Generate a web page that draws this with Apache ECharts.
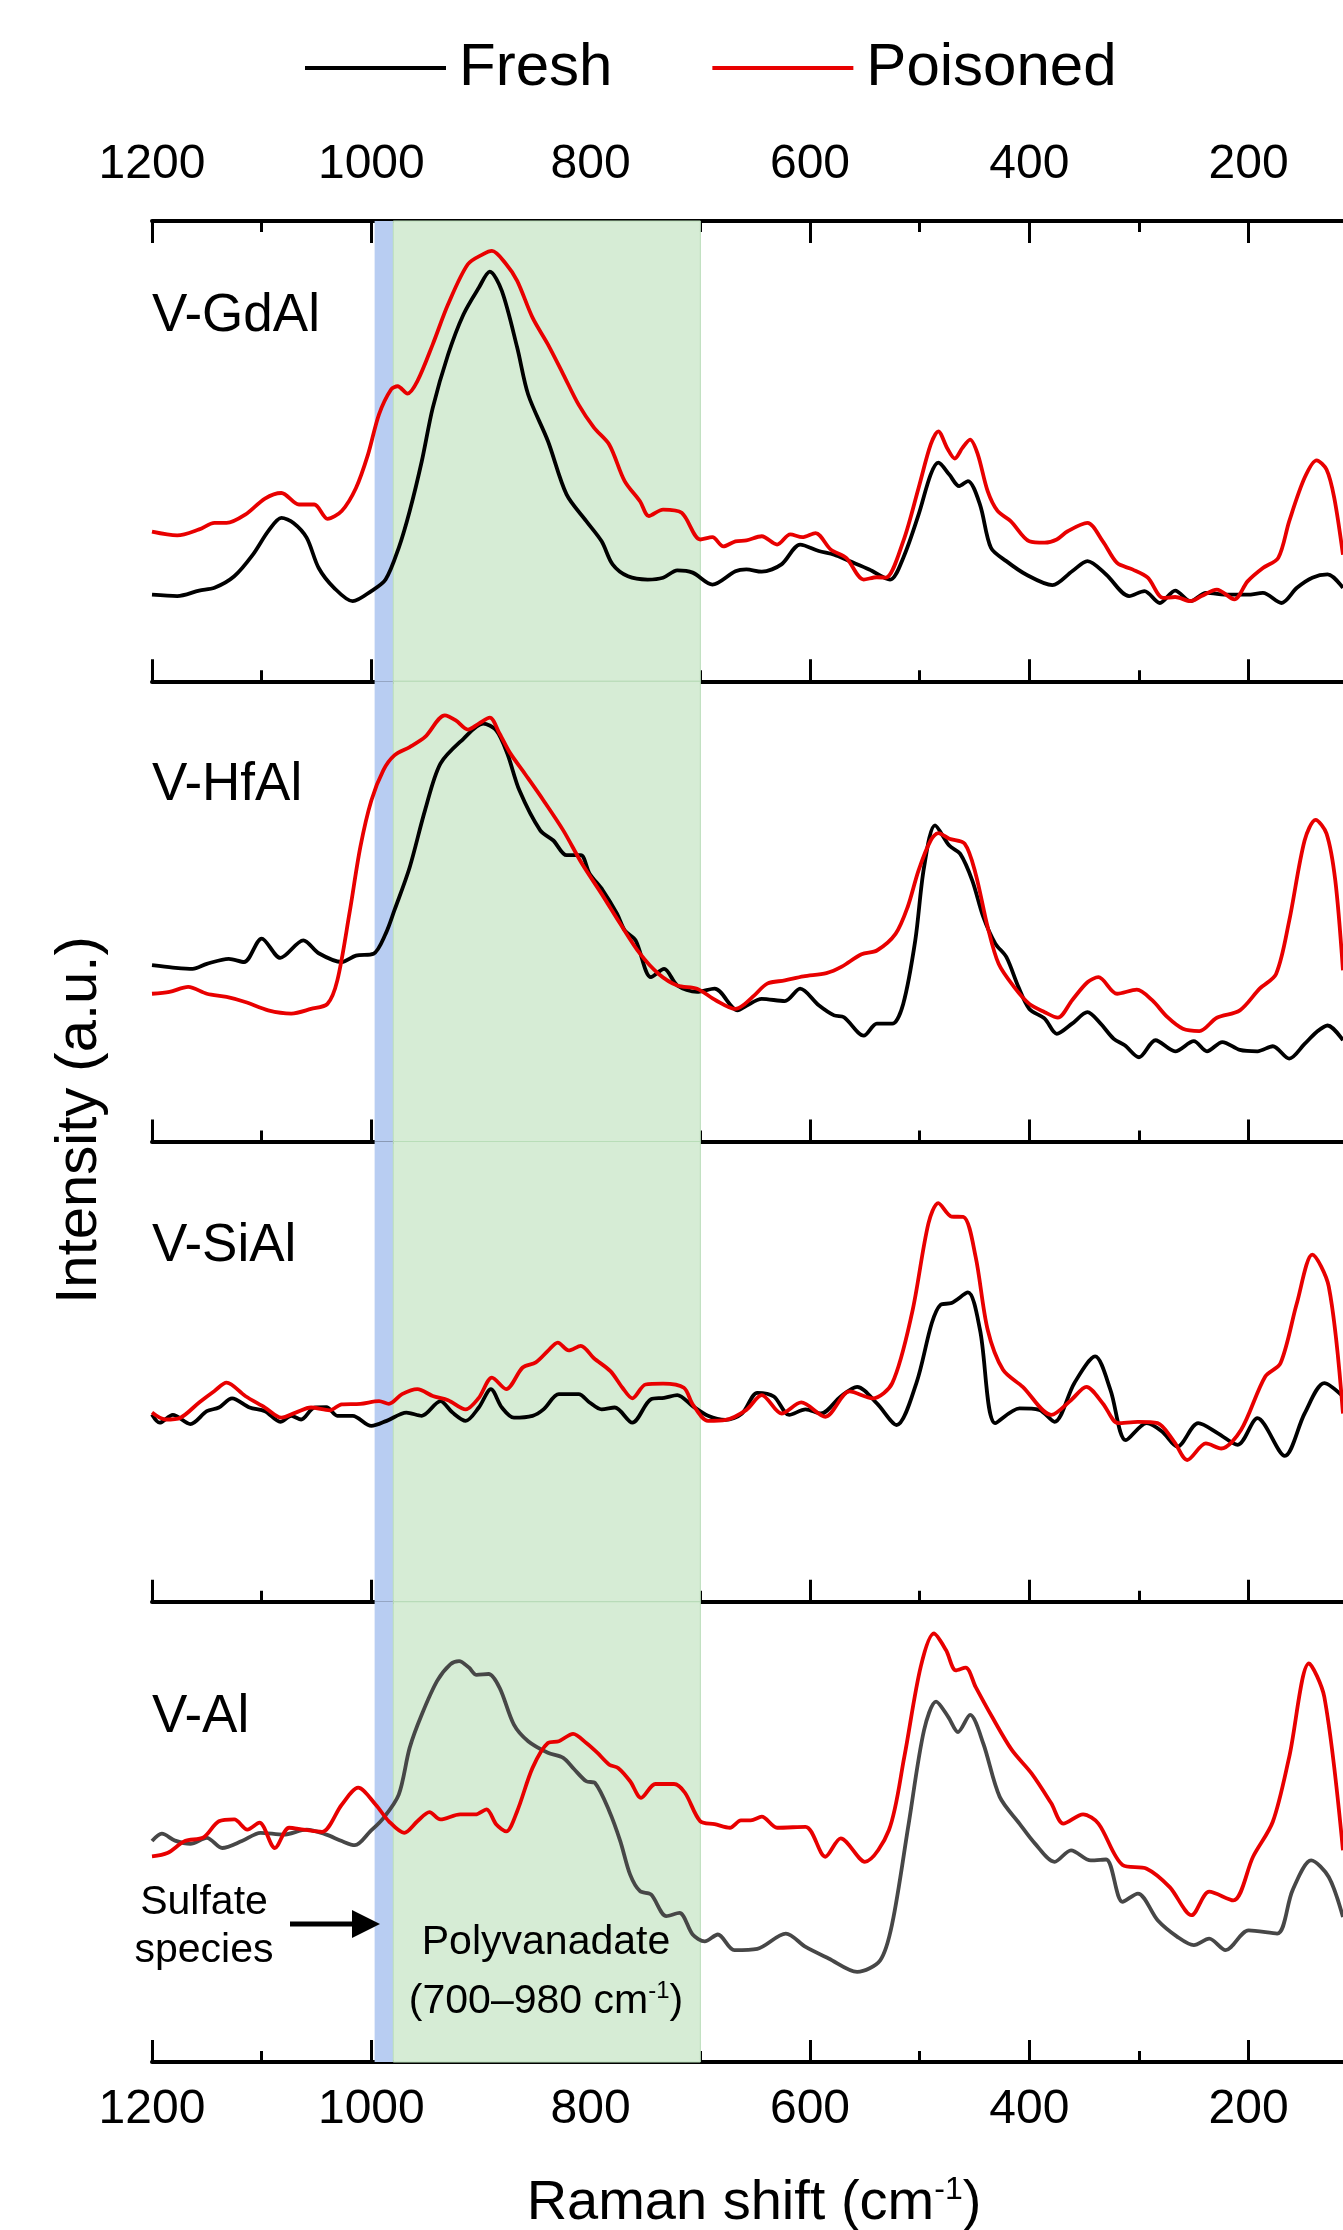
<!DOCTYPE html>
<html><head><meta charset="utf-8">
<script src="https://cdn.jsdelivr.net/npm/echarts@6/dist/echarts.min.js"></script>
<style>html,body{margin:0;padding:0;background:#fff}#c{width:1343px;height:2230px}</style>
</head><body><div id="c"></div>
<script>
// ---------------- data ----------------
const tickLabels = [1200, 1000, 800, 600, 400, 200];
const panelNames = ['V-GdAl', 'V-HfAl', 'V-SiAl', 'V-Al'];
const seriesNames = ['Fresh', 'Poisoned'];
const sulfateBand = [997, 980];
const polyvanadateBand = [980, 700];

const gdFresh = [[1200,18.8],[1177,18.5],[1157,19.7],[1143,20.3],[1125,22.8],[1108,27.5],[1094,32.6],[1082,35.5],[1071,34.4],[1059,31.2],[1048,24.6],[1034,20.3],[1017,17.4],[1000,19.6],[987,22.1],[975,29],[965,37],[954,47.8],[944,59.4],[930,71],[916,79.7],[902,85.5],[892,89],[881,84.8],[867,72.5],[857,62.3],[839,52.2],[822,40.6],[804,34.8],[790,30.4],[780,25.4],[766,22.8],[748,22.1],[734,22.5],[721,24.1],[707,23.6],[689,21],[668,23.9],[658,24.3],[644,23.8],[626,25.4],[609,29.7],[592,28.3],[578,27.5],[564,26.1],[546,24.3],[527,22.1],[515,26.8],[501,36.2],[490,44.9],[483,47.5],[473,44.9],[464,42.4],[456,43.5],[445,38.4],[435,29],[421,26.1],[403,23.2],[379,20.9],[361,23.9],[347,26.1],[330,23.2],[309,18.5],[295,19.6],[281,17],[267,19.7],[253,17.4],[239,19.2],[218,18.8],[201,18.8],[187,19.2],[170,17],[156,20.3],[142,22.5],[128,23.2],[114,20.3]];
const gdPoisoned = [[1200,32.5],[1177,31.7],[1157,33],[1143,34.4],[1132,34.4],[1115,36.2],[1097,39.7],[1082,40.9],[1066,38.4],[1052,38.4],[1040,35.3],[1027,37],[1014,42],[1003,49.3],[993,58],[982,63.4],[976,64.1],[967,62.5],[958,65.2],[944,73.2],[930,81.9],[912,90.6],[898,92.8],[890,93.5],[877,90.6],[867,87],[853,79],[839,73.2],[825,66.7],[811,60.1],[797,55.1],[783,51.4],[769,43.5],[755,39.1],[747,35.9],[734,37.3],[717,36.6],[700,30.8],[689,31.3],[679,29.3],[668,30.4],[658,30.6],[644,31.5],[630,29.7],[618,31.9],[607,31.3],[595,32.2],[581,28.6],[567,26.8],[551,22.1],[539,22.6],[531,22.5],[515,30.4],[501,42],[490,51.4],[483,54.3],[475,50.7],[468,48.4],[461,50.7],[454,52.5],[447,49.3],[438,41.3],[429,37],[417,34.8],[400,30.4],[386,30.1],[375,30.8],[365,32.6],[347,34.4],[333,30.4],[320,25.7],[306,24.3],[292,22.5],[278,18.1],[267,18.3],[253,17.4],[243,18.5],[229,19.9],[213,17.8],[201,21.7],[187,24.6],[173,26.8],[163,34.8],[149,44.2],[138,48],[129,46],[122,39.9],[114,27.5]];
const hfFresh = [[1200,38.3],[1181,37.8],[1163,37.5],[1150,38.6],[1130,39.7],[1116,39],[1100,44.1],[1083,39.9],[1062,43.7],[1048,40.9],[1027,39],[1014,40.4],[998,40.8],[987,45.1],[979,50.2],[965,59.6],[951,72],[937,82.1],[916,87.5],[898,90.8],[886,89.3],[876,84.3],[865,76.3],[846,67.6],[834,65.4],[822,62.2],[809,62.2],[801,58.2],[789,54.6],[776,49.5],[769,45.9],[759,43.7],[745,35.7],[733,37.5],[721,33.9],[703,32.5],[687,33.2],[666,28.5],[658,29.5],[644,31],[623,30.5],[609,33.2],[592,29.6],[578,27.4],[569,27],[551,23],[539,25.6],[525,25.6],[515,29.9],[504,43.7],[496,59.6],[486,68.7],[473,64.3],[463,62.5],[452,56.7],[442,48.8],[431,43],[421,40.1],[410,33.6],[400,28.8],[386,26.7],[375,23.4],[361,25.6],[347,28.1],[335,25.6],[323,22.3],[313,20.9],[300,18.3],[285,22],[267,19.6],[250,21.8],[238,19.6],[224,21.6],[208,19.9],[192,19.6],[178,20.7],[163,18],[149,21.2],[138,23.8],[128,25.2],[114,22]];
const hfPoisoned = [[1200,32.1],[1184,32.5],[1167,33.6],[1150,32.1],[1132,31.4],[1115,30.3],[1094,28.5],[1073,27.8],[1055,28.8],[1040,29.9],[1031,35],[1020,49.5],[1010,64],[1000,74.1],[989,80.7],[979,83.9],[965,85.7],[951,87.9],[933,92.6],[923,91.5],[912,89.5],[902,90.8],[892,92.1],[883,88.6],[874,84.6],[860,79.9],[843,74.1],[825,67.6],[808,60.4],[790,53.8],[773,47.3],[755,40.8],[738,36.4],[721,33.9],[703,33.2],[686,30.7],[668,28.8],[661,29.6],[651,31.7],[639,34.3],[623,35],[606,35.9],[585,36.6],[571,38],[553,40.7],[539,41.5],[522,45.1],[511,50.9],[501,58.9],[490,65.4],[483,67],[473,65.8],[459,64.7],[449,58.2],[438,46.6],[428,38.6],[414,33.6],[400,29.9],[386,28.1],[374,26.9],[361,30.7],[347,34.6],[337,35.7],[320,32.1],[302,33],[288,30.7],[274,27],[260,24.5],[245,24],[229,26.9],[208,28.5],[190,33.2],[175,36.4],[163,48],[149,65.4],[139,69.9],[129,66.9],[121,56.7],[114,37.2]];
const siFresh = [[1200,40.7],[1193,38.9],[1181,40.6],[1165,38.6],[1150,41.4],[1139,42.2],[1127,44.2],[1111,42.2],[1097,41.4],[1083,39.1],[1073,40.4],[1064,39.6],[1052,42.2],[1041,42.3],[1031,40.4],[1017,40.4],[1000,38.2],[986,39.3],[968,41.1],[954,40.4],[937,43.6],[926,41.1],[914,39.3],[902,42.2],[891,46.2],[881,42.2],[870,40],[853,40.4],[843,41.8],[829,45.1],[811,45.1],[801,43.3],[790,41.8],[778,42.2],[762,38.9],[745,44],[733,44.3],[721,44.9],[707,42.5],[693,40.4],[677,39.5],[662,40.9],[648,45.4],[633,44.6],[619,40.6],[604,41.8],[590,40.9],[572,44.6],[557,46.7],[539,43.1],[521,38.4],[503,47.5],[489,60.5],[481,64.5],[471,64.9],[456,67.2],[445,59.1],[431,38.8],[409,42],[391,41.7],[377,39.1],[359,47.5],[340,53.3],[326,46],[312,35.1],[293,38.8],[279,37],[265,33.7],[246,38.8],[228,36.6],[210,34.1],[192,39.9],[167,31.7],[149,40.9],[131,47.5],[114,44.6]];
const siPoisoned = [[1200,41.1],[1188,39.6],[1174,40],[1157,43.3],[1143,45.8],[1132,47.6],[1115,44.7],[1097,42.2],[1082,40],[1069,41.1],[1055,42.2],[1038,41.6],[1027,42.9],[1010,43],[993,43.6],[984,43],[972,45.1],[958,46.2],[944,44.7],[930,43.8],[914,41.8],[902,44.3],[890,48.7],[877,46.2],[862,50.9],[850,52],[839,54.5],[830,56.3],[820,54.6],[809,55.6],[797,52.9],[782,50.1],[771,46.5],[762,44.2],[750,47.2],[734,47.4],[715,46.5],[707,42.9],[693,39.3],[677,39.5],[658,41.7],[644,44.9],[626,40.9],[608,43.3],[586,40.2],[564,45.7],[543,44.2],[525,47.5],[507,62.7],[492,82.2],[483,86.6],[471,83.7],[460,83.6],[449,75],[438,59.1],[424,50.4],[406,46.7],[380,40.6],[362,43.8],[348,46.7],[333,43.1],[319,38.8],[301,39.1],[283,38.8],[268,34.8],[256,30.8],[239,34.4],[225,33.3],[207,37.3],[185,48.9],[171,51.8],[156,64.9],[142,75.4],[127,68.5],[114,40.9]];
const alFresh = [[1200,48],[1191,49.6],[1179,48.1],[1165,47.4],[1150,48.7],[1136,46.5],[1118,48],[1101,49.8],[1080,49.4],[1059,50.5],[1041,49.4],[1027,48],[1015,47.1],[1001,50.1],[989,53],[975,58.1],[965,68.3],[954,75.5],[940,82.8],[928,86.4],[920,87.1],[911,85.7],[904,84.1],[893,84.3],[883,81.3],[870,73.3],[857,69.7],[839,67.2],[825,66.1],[815,63.6],[804,61],[796,60.6],[783,54.5],[773,48],[764,40.7],[755,37.1],[745,36.4],[731,31.7],[719,32.4],[707,27.7],[696,26.2],[684,27.7],[669,24.3],[648,24.6],[622,27.9],[604,25],[583,22.5],[557,19.6],[536,22.1],[525,30.1],[510,51.8],[496,72.1],[485,78.3],[474,75],[465,71.7],[454,75.4],[442,69.2],[427,57.6],[409,51.8],[395,47.5],[377,43.5],[362,46],[344,43.8],[330,44],[315,34.8],[301,36.6],[283,30.8],[265,27.2],[250,25.4],[236,26.8],[221,24.3],[200,28.6],[174,27.9],[160,37.3],[143,43.8],[127,40.2],[114,31.5]];
const alPoisoned = [[1200,44.7],[1186,45.4],[1170,48],[1153,48.8],[1139,52.3],[1125,52.7],[1113,50.5],[1102,52],[1088,46.5],[1075,50.9],[1062,50.5],[1045,50],[1027,55.9],[1012,59.6],[996,55.9],[984,52.3],[970,49.8],[958,52.3],[947,54.3],[937,52.7],[919,53.8],[905,53.8],[895,54.9],[886,51.6],[877,50.1],[867,54.5],[853,63.9],[839,69.3],[829,69.7],[816,71.3],[804,69.3],[794,67.2],[783,64.6],[775,63.9],[764,61],[754,57.4],[741,60.4],[724,60.4],[714,58.5],[700,52.3],[687,51.7],[673,50.9],[663,52.5],[654,52.5],[644,53.3],[630,50.9],[604,51.1],[586,44.6],[572,48.6],[550,43.5],[528,50.4],[514,66.3],[499,85.9],[487,93.1],[476,89.5],[467,85.1],[458,85.7],[449,81.5],[434,75],[416,67.8],[398,62.7],[380,56.2],[369,51.8],[351,53.8],[337,51.8],[315,42.8],[293,42],[272,38],[252,31.9],[236,37],[214,35.1],[196,44.6],[178,52.2],[163,66.3],[145,86.6],[131,79.3],[114,46]];

// ---------------- chart ----------------
const FONT = "'Liberation Sans', Arial, Helvetica, sans-serif";
const panelData = [[gdFresh, gdPoisoned], [hfFresh, hfPoisoned], [siFresh, siPoisoned], [alFresh, alPoisoned]];
const freshColors = ['#000000', '#000000', '#000000', '#474747'];
const RED = '#e80000';
const PANEL_TOP = 221, PANEL_H = 460.25;
const labelY = [316, 785, 1246, 1717];

const chart = echarts.init(document.getElementById('c'), null, {renderer: 'canvas', width: 1343, height: 2230});

function xAxisDef(i, pos, showLabel, margin) {
  return {
    gridIndex: i, type: 'value', position: pos, min: 0, max: 1200, interval: 200, inverse: true,
    axisLine: {show: true, onZero: false, lineStyle: {color: '#000', width: 4}},
    axisTick: {show: true, inside: true, length: 22, lineStyle: {color: '#000', width: 3}},
    minorTick: {show: true, splitNumber: 2, length: 11, lineStyle: {color: '#000', width: 3}},
    splitLine: {show: false}, minorSplitLine: {show: false},
    axisLabel: {show: showLabel, margin: margin, fontSize: 48, color: '#000', fontFamily: FONT,
      formatter: v => tickLabels.includes(v) ? String(v) : ''}
  };
}

const grids = [], xAxes = [], yAxes = [], series = [];
for (let i = 0; i < 4; i++) {
  grids.push({left: 152, right: -125, top: PANEL_TOP + i * PANEL_H, height: PANEL_H, containLabel: false, outerBoundsMode: 'none'});
  xAxes.push(xAxisDef(i, 'bottom', i === 3, 24));
  yAxes.push({gridIndex: i, type: 'value', min: 0, max: 100, show: false});
  series.push({
    name: seriesNames[0], type: 'line', xAxisIndex: i, yAxisIndex: i, data: panelData[i][0],
    showSymbol: false, symbol: 'none', smooth: 0.3, color: '#000',
    lineStyle: {color: freshColors[i], width: 3.8},
    markArea: {silent: true, label: {show: false}, data: [
      [{xAxis: sulfateBand[0], itemStyle: {color: '#b8cdf2'}}, {xAxis: sulfateBand[1]}],
      [{xAxis: polyvanadateBand[0], itemStyle: {color: '#d6ecd5', borderColor: '#b9ddb8', borderWidth: 1}}, {xAxis: polyvanadateBand[1]}]
    ]}
  });
  series.push({
    name: seriesNames[1], type: 'line', xAxisIndex: i, yAxisIndex: i, data: panelData[i][1],
    showSymbol: false, symbol: 'none', smooth: 0.3, color: RED,
    lineStyle: {color: RED, width: 3.8}
  });
}
xAxes.push(xAxisDef(0, 'top', true, 32));

const graphic = [];
panelNames.forEach((n, i) => graphic.push({
  type: 'text', x: 152, y: labelY[i], z: 100,
  style: {text: n, fontSize: 53, fontFamily: FONT, fill: '#000', align: 'left', verticalAlign: 'middle'}
}));
graphic.push({type: 'text', x: 80, y: 1120, rotation: Math.PI / 2, z: 100,
  style: {text: 'Intensity (a.u.)', fontSize: 58, fontFamily: FONT, fill: '#000', align: 'center', verticalAlign: 'middle'}});
graphic.push({type: 'text', x: 754, y: 2204, z: 100,
  style: {text: '{a|Raman shift (cm}{s|-1}{a|)}', fill: '#000', align: 'center', verticalAlign: 'middle',
    rich: {a: {fontSize: 56, fontFamily: FONT, fill: '#000', lineHeight: 60},
           s: {fontSize: 32, fontFamily: FONT, fill: '#000', verticalAlign: 'top', lineHeight: 60}}}});
graphic.push({type: 'text', x: 204, y: 1903, z: 100,
  style: {text: 'Sulfate', fontSize: 41, fontFamily: FONT, fill: '#000', align: 'center', verticalAlign: 'middle'}});
graphic.push({type: 'text', x: 204, y: 1951, z: 100,
  style: {text: 'species', fontSize: 41, fontFamily: FONT, fill: '#000', align: 'center', verticalAlign: 'middle'}});
graphic.push({type: 'line', z: 100, shape: {x1: 290, y1: 1924, x2: 356, y2: 1924}, style: {stroke: '#000', lineWidth: 5}});
graphic.push({type: 'polygon', z: 100, shape: {points: [[352, 1910], [380, 1924], [352, 1938]]}, style: {fill: '#000'}});
graphic.push({type: 'text', x: 546, y: 1943, z: 100,
  style: {text: 'Polyvanadate', fontSize: 41, fontFamily: FONT, fill: '#000', align: 'center', verticalAlign: 'middle'}});
graphic.push({type: 'text', x: 546, y: 2002, z: 100,
  style: {text: '{a|(700–980 cm}{s|-1}{a|)}', fill: '#000', align: 'center', verticalAlign: 'middle',
    rich: {a: {fontSize: 41, fontFamily: FONT, fill: '#000', lineHeight: 46},
           s: {fontSize: 24, fontFamily: FONT, fill: '#000', verticalAlign: 'top', lineHeight: 46}}}});

chart.setOption({
  animation: false,
  backgroundColor: '#ffffff',
  legend: {
    data: seriesNames, left: 300, top: 33, itemWidth: 141, itemHeight: 4, itemGap: 100, icon: 'rect',
    selectedMode: false,
    textStyle: {fontSize: 60, fontFamily: FONT, color: '#000', padding: [0, 0, 0, 8]}
  },
  grid: grids, xAxis: xAxes, yAxis: yAxes, series: series, graphic: graphic
});
</script></body></html>
